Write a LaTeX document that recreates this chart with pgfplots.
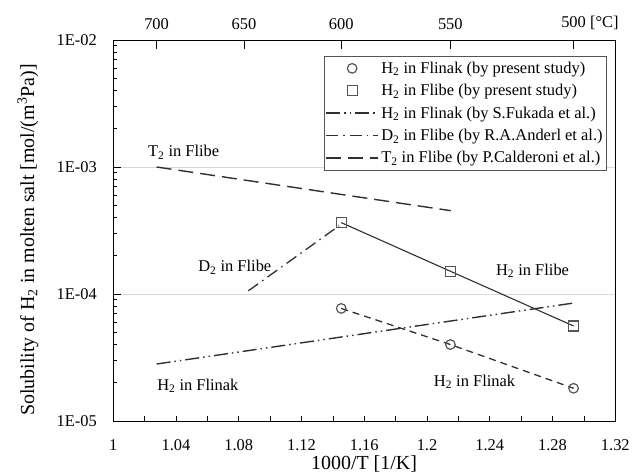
\documentclass[border=0pt]{standalone}
\usepackage{fontspec}
\setmainfont{Liberation Serif}
\usepackage{pgfplots}
\pgfplotsset{compat=1.18}
\definecolor{linec}{HTML}{303030}
\definecolor{markc}{HTML}{555555}
\definecolor{gridc}{HTML}{D9D9D9}
\newcommand{\tfont}{\fontsize{16.5}{19}\selectfont}
\newcommand{\lfont}{\fontsize{20}{24}\selectfont}
\pgfplotsset{
  lineleg/.style={legend image code/.code={\draw[##1] (0bp,0bp) -- (52bp,0bp);}},
  markleg/.style={legend image code/.code={\draw[##1] plot coordinates {(26bp,0bp)};}},
}
\begin{document}
\begin{tikzpicture}
\path[use as bounding box] (-113.3bp,-53bp) rectangle (524.7bp,421bp);
% main data axis
\begin{axis}[
  at={(0,0)}, anchor=south west,
  scale only axis, width=502bp, height=381bp,
  xmin=1, xmax=1.32, ymode=log, ymin=1e-5, ymax=1e-2,
  xtick=\empty,
  ytick={1e-5,1e-4,1e-3,1e-2},
  yticklabels={1E-05,1E-04,1E-03,1E-02},
  ytick pos=left, tick align=inside,
  major tick length=8bp, minor tick length=4bp,
  yticklabel style={font=\tfont, xshift=-13bp},
  ymajorgrids, major grid style={gridc, line width=0.9pt},
  axis line style={black, line width=0.9pt},
  every tick/.style={black, line width=0.8pt},
  ylabel={Solubility of H\textsubscript{2} in molten salt [mol/(m\textsuperscript{3}Pa)]},
  ylabel style={font=\lfont, at={(axis description cs:-0.170,0.475)}, anchor=center},
  legend style={at={(0.9835,0.958)}, anchor=north east, draw=markc, line width=0.8pt,
    font=\tfont, row sep=6.5bp, inner xsep=1.5bp, inner ysep=4bp,
    nodes={inner ysep=1.5bp, inner xsep=2.5bp}},
  legend cell align=left,
  lineleg,
]
% lines of present study (not in legend)
\addplot[forget plot, linec, line width=1.3pt, dash pattern=on 7bp off 5bp]
  coordinates {(1.1453,7.7e-5) (1.2149,4.0e-5) (1.2934,1.81e-5)};
\addplot[forget plot, linec, line width=1.1pt]
  coordinates {(1.1453,3.65e-4) (1.2149,1.51e-4) (1.2934,5.6e-5)};
% markers
\addplot[only marks, mark=o, mark size=4.8bp, markc, mark options={line width=1.2pt}, markleg]
  coordinates {(1.1453,7.7e-5) (1.2149,4.0e-5) (1.2934,1.81e-5)};
\addlegendentry{H\textsubscript{2} in Flinak (by present study)}
\addplot[only marks, mark=square, mark size=5bp, markc, mark options={line width=1.2pt}, markleg]
  coordinates {(1.1453,3.65e-4) (1.2149,1.51e-4) (1.2934,5.6e-5)};
\addlegendentry{H\textsubscript{2} in Flibe (by present study)}
% literature
\addplot[linec, line width=1.4pt, dash pattern=on 14bp off 4bp on 1.5bp off 4bp on 1.5bp off 4bp]
  coordinates {(1.0276,2.81e-5) (1.2937,8.5e-5)};
\addlegendentry{H\textsubscript{2} in Flinak (by S.Fukada et al.)}
\addplot[linec, line width=1.3pt, dash pattern=on 12bp off 5bp on 1.5bp off 5bp]
  coordinates {(1.0861,1.06e-4) (1.1440,3.45e-4)};
\addlegendentry{D\textsubscript{2} in Flibe (by R.A.Anderl et al.)}
\addplot[linec, line width=1.4pt, dash pattern=on 15bp off 7bp]
  coordinates {(1.0276,1.0e-3) (1.2151,4.53e-4)};
\addlegendentry{T\textsubscript{2} in Flibe (by P.Calderoni et al.)}
% annotations
\node[anchor=west, font=\tfont, inner sep=0pt] at (axis cs:1.0221,1.31e-3) {T\textsubscript{2} in Flibe};
\node[anchor=west, font=\tfont, inner sep=0pt] at (axis cs:1.0541,1.63e-4) {D\textsubscript{2} in Flibe};
\node[anchor=west, font=\tfont, inner sep=0pt] at (axis cs:1.2439,1.52e-4) {H\textsubscript{2} in Flibe};
\node[anchor=west, font=\tfont, inner sep=0pt] at (axis cs:1.2043,2.03e-5) {H\textsubscript{2} in Flinak};
\node[anchor=west, font=\tfont, inner sep=0pt] at (axis cs:1.0279,1.89e-5) {H\textsubscript{2} in Flinak};
\end{axis}
% bottom x ticks
\begin{axis}[
  at={(0,0)}, anchor=south west,
  scale only axis, width=502bp, height=381bp,
  xmin=1, xmax=1.32, ymin=0, ymax=1,
  axis x line*=bottom, axis y line=none,
  axis line style={black, line width=0.9pt, -},
  xtick={1,1.02,1.04,1.06,1.08,1.10,1.12,1.14,1.16,1.18,1.20,1.22,1.24,1.26,1.28,1.30,1.32},
  xticklabels={1,,1.04,,1.08,,1.12,,1.16,,1.2,,1.24,,1.28,,1.32},
  tick align=inside, major tick length=5bp,
  every tick/.style={black, line width=0.8pt},
  xticklabel style={font=\tfont, yshift=-15bp},
  xlabel={1000/T [1/K]},
  xlabel style={font=\lfont, at={(axis description cs:0.4995,-0.112)}, anchor=center},
]
\end{axis}
% top temperature axis
\begin{axis}[
  at={(0,0)}, anchor=south west,
  scale only axis, width=502bp, height=381bp,
  xmin=1, xmax=1.32, ymin=0, ymax=1,
  axis x line*=top, axis y line=none,
  axis line style={black, line width=0.9pt, -},
  xtick={1.02759,1.08325,1.14528,1.21485,1.29341},
  xticklabels={700,650,600,550,{500\rlap{ [°C]}}},
  tick align=inside, major tick length=9bp,
  every tick/.style={black, line width=0.8pt},
  xticklabel style={font=\tfont, yshift=7bp},
]
\end{axis}
\end{tikzpicture}
\end{document}
